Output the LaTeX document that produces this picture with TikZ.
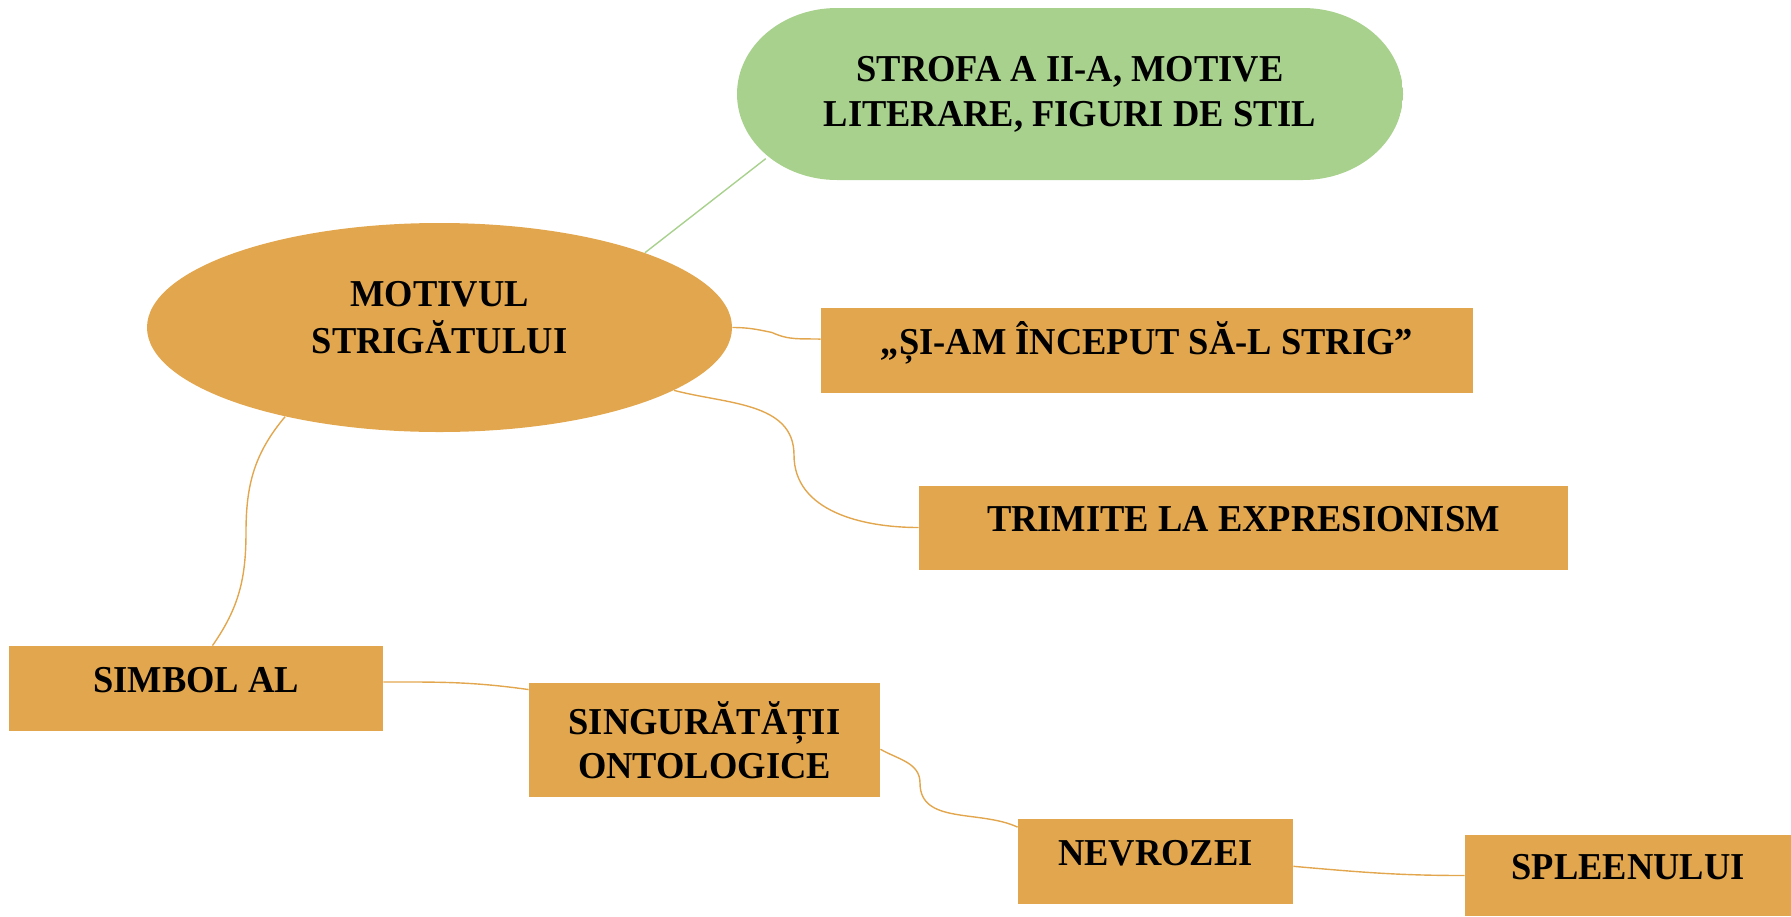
\documentclass[tikz,border=0pt]{standalone}
\usepackage{fontspec}
\setmainfont{Liberation Serif}[FakeStretch=0.96]
\usetikzlibrary{shapes.geometric,shapes.misc,calc}
\definecolor{orng}{RGB}{226,167,78}
\definecolor{grn}{RGB}{169,209,142}
\newcommand{\dpadd}[1]{\rule[-#1]{0pt}{#1}}
\begin{document}
\begin{tikzpicture}[x=0.5pt,y=0.5pt,
  lbl/.style={font=\fontsize{19pt}{23pt}\selectfont\bfseries, align=center, text=black, inner sep=0pt},
  obox/.style={lbl, rectangle, fill=orng, draw=none, text height=12.6pt, text depth=8.5pt},
  obox2/.style={lbl, rectangle, fill=orng, draw=none},
  conn/.style={draw=orng, line width=0.7pt},
  gconn/.style={draw=grn, line width=0.7pt}]
\useasboundingbox (0,0) rectangle (1791,-916);
% nodes
\node[lbl, rounded rectangle, minimum width=333pt, minimum height=86pt,
  font=\fontsize{19pt}{22.5pt}\selectfont\bfseries,
  path picture={\fill[grn] ([xshift=50pt]path picture bounding box.north west)
      -- ([xshift=-50pt]path picture bounding box.north east)
      arc[start angle=90, end angle=-90, x radius=50pt, y radius=43pt]
      -- ([xshift=50pt]path picture bounding box.south west)
      arc[start angle=270, end angle=90, x radius=50pt, y radius=43pt] -- cycle;}]
  (gr) at (1070,-94) {STROFA A II-A, MOTIVE\\LITERARE, FIGURI DE STIL\dpadd{2pt}};
\node[lbl, ellipse, fill=orng, minimum width=292.5pt, minimum height=104.5pt,
  font=\fontsize{19pt}{23.5pt}\selectfont\bfseries] (ell) at (439.5,-327.5) {MOTIVUL\\STRIGĂTULUI\dpadd{10pt}};
\node[obox, minimum width=326pt, minimum height=42.5pt] (b1) at (1147,-350.5) {„ȘI-AM ÎNCEPUT SĂ-L STRIG”};
\node[obox, minimum width=324.5pt, minimum height=42pt] (b2) at (1243.5,-527.5) {TRIMITE LA EXPRESIONISM};
\node[obox, minimum width=187pt, minimum height=42.5pt] (simbol) at (196,-688.5) {SIMBOL AL};
\node[obox2, minimum width=175.5pt, minimum height=57pt,
  font=\fontsize{19pt}{22pt}\selectfont\bfseries] (sing) at (704.5,-740) {SINGURĂTĂȚII\\ONTOLOGICE};
\node[obox, minimum width=137.5pt, minimum height=42.5pt] (nev) at (1155.5,-861.5) {NEVROZEI};
\node[obox, minimum width=163pt, minimum height=40.5pt] (spl) at (1628,-875.5) {SPLEENULUI};
% helper coordinates
\coordinate (m1) at (772,-332.5);
\coordinate (m2) at (794,-455);
\coordinate (m3) at (246,-532);
\coordinate (m4) at (920,-783);
% connectors
\draw[gconn] (ell.20) -- (gr.192);
\draw[conn] (ell.east) to[out=0,in=168] (m1) to[out=-25,in=178] (b1.178);
\draw[conn] (ell.-15) to[out=-15,in=90] (m2) to[out=-90,in=180] (b2.west);
\draw[conn] (ell.210) to[out=-130,in=90] (m3) to[out=-90,in=55] (simbol.69);
\draw[conn] (simbol.2) to[out=0,in=172] (sing.164);
\draw[conn] (sing.-3) to[out=-30,in=90] (m4) to[out=-90,in=155] (nev.166);
\draw[conn] (nev.-2) to[out=-5,in=180] (spl.west);
\end{tikzpicture}
\end{document}
